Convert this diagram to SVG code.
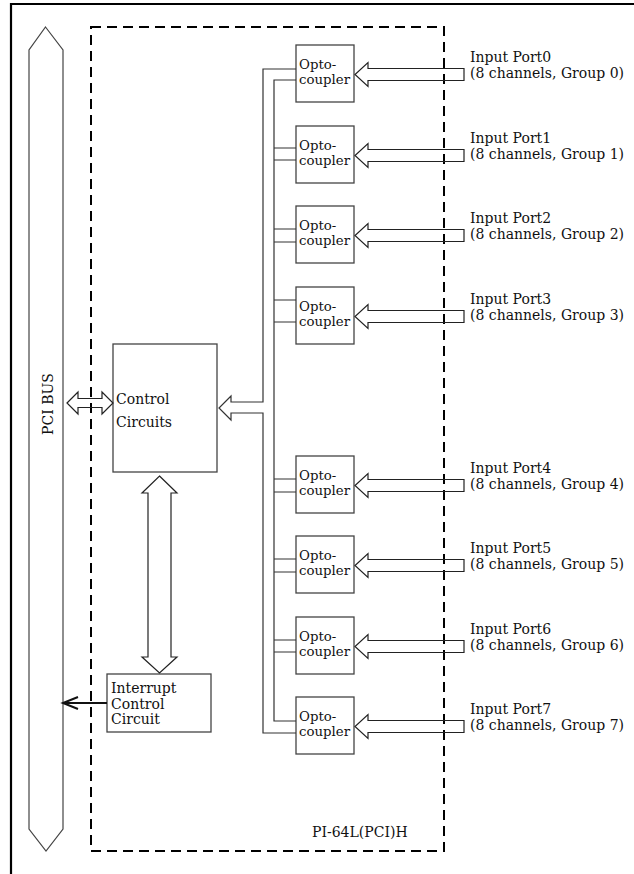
<svg xmlns="http://www.w3.org/2000/svg" width="634" height="874" viewBox="0 0 634 874">
<style>
.t{font-family:"DejaVu Serif","Liberation Serif",serif;font-size:14px;fill:#111}
.o{font-family:"DejaVu Serif","Liberation Serif",serif;font-size:13.3px;fill:#111}
.box{fill:#fff;stroke:#444;stroke-width:1.3}
.ln{fill:none;stroke:#333;stroke-width:1.2}
.ha{fill:none;stroke:#222;stroke-width:1.2;stroke-linejoin:miter}
</style>
<rect width="634" height="874" fill="#fff"/>
<g id="frame">
<path d="M11,874 V4 H634" fill="none" stroke="#000" stroke-width="2.2"/>
</g>
<g id="board">
<rect x="91" y="27" width="353" height="824" fill="none" stroke="#000" stroke-width="2" stroke-dasharray="10,6"/>
<text class="t" x="312" y="837">PI-64L(PCI)H</text>
</g>
<g id="pci-bus">
<polygon points="45.5,27 63,50 63,829 46,851 29,829 29,50" fill="none" stroke="#444" stroke-width="1.2"/>
<text class="t" font-size="14.5" transform="translate(53,404) rotate(-90)" text-anchor="middle">PCI BUS</text>
</g>
<g id="control">
<rect class="box" x="113" y="344" width="104" height="128"/>
<text class="t" x="116" y="404">Control</text>
<text class="t" x="116" y="427">Circuits</text>
</g>
<g id="interrupt">
<rect class="box" x="107" y="674" width="104" height="58"/>
<text class="t" x="111" y="693">Interrupt</text>
<text class="t" x="111" y="708.5">Control</text>
<text class="t" x="111" y="724">Circuit</text>
</g>
<g id="opto0"><rect class="box" x="296" y="45" width="58" height="57"/><text class="o" x="299" y="69">Opto-</text><text class="o" x="299" y="84">coupler</text></g>
<g id="opto1"><rect class="box" x="296" y="126" width="58" height="57"/><text class="o" x="299" y="150">Opto-</text><text class="o" x="299" y="165">coupler</text></g>
<g id="opto2"><rect class="box" x="296" y="206" width="58" height="57"/><text class="o" x="299" y="230">Opto-</text><text class="o" x="299" y="245">coupler</text></g>
<g id="opto3"><rect class="box" x="296" y="287" width="58" height="57"/><text class="o" x="299" y="311">Opto-</text><text class="o" x="299" y="326">coupler</text></g>
<g id="opto4"><rect class="box" x="296" y="456" width="58" height="57"/><text class="o" x="299" y="480">Opto-</text><text class="o" x="299" y="495">coupler</text></g>
<g id="opto5"><rect class="box" x="296" y="536" width="58" height="57"/><text class="o" x="299" y="560">Opto-</text><text class="o" x="299" y="575">coupler</text></g>
<g id="opto6"><rect class="box" x="296" y="617" width="58" height="57"/><text class="o" x="299" y="641">Opto-</text><text class="o" x="299" y="656">coupler</text></g>
<g id="opto7"><rect class="box" x="296" y="697" width="58" height="57"/><text class="o" x="299" y="721">Opto-</text><text class="o" x="299" y="736">coupler</text></g>
<g id="port-labels">
<text class="t" x="470" y="62">Input Port0</text><text class="t" x="470" y="78">(8 channels, Group 0)</text>
<text class="t" x="470" y="143">Input Port1</text><text class="t" x="470" y="159">(8 channels, Group 1)</text>
<text class="t" x="470" y="223">Input Port2</text><text class="t" x="470" y="239">(8 channels, Group 2)</text>
<text class="t" x="470" y="304">Input Port3</text><text class="t" x="470" y="320">(8 channels, Group 3)</text>
<text class="t" x="470" y="473">Input Port4</text><text class="t" x="470" y="489">(8 channels, Group 4)</text>
<text class="t" x="470" y="553">Input Port5</text><text class="t" x="470" y="569">(8 channels, Group 5)</text>
<text class="t" x="470" y="634">Input Port6</text><text class="t" x="470" y="650">(8 channels, Group 6)</text>
<text class="t" x="470" y="714">Input Port7</text><text class="t" x="470" y="730">(8 channels, Group 7)</text>
</g>
<g id="connectors">
<path class="ln" d="M296,80 H274 V721 H296 M274,148 H296 M274,160 H296 M274,229 H296 M274,242 H296 M274,300 H296 M274,322 H296 M274,479 H296 M274,492 H296 M274,559 H296 M274,572 H296 M274,640 H296 M274,652 H296"/>
<path class="ln" d="M296,69 H263 V402 H231 V396 L219,408 L231,420 V413 H263 V733 H296"/>
<path class="ha" d="M464,68.5 H368 V62.5 L355,74.5 L368,86.5 V80.5 H464 Z"/>
<path class="ha" d="M464,149.5 H368 V143.5 L355,155.5 L368,167.5 V161.5 H464 Z"/>
<path class="ha" d="M464,229.5 H368 V223.5 L355,235.5 L368,247.5 V241.5 H464 Z"/>
<path class="ha" d="M464,310.5 H368 V304.5 L355,316.5 L368,328.5 V322.5 H464 Z"/>
<path class="ha" d="M464,479.5 H368 V473.5 L355,485.5 L368,497.5 V491.5 H464 Z"/>
<path class="ha" d="M464,559.5 H368 V553.5 L355,565.5 L368,577.5 V571.5 H464 Z"/>
<path class="ha" d="M464,640.5 H368 V634.5 L355,646.5 L368,658.5 V652.5 H464 Z"/>
<path class="ha" d="M464,720.5 H368 V714.5 L355,726.5 L368,738.5 V732.5 H464 Z"/>
<path class="ha" d="M67,403 L78,392 V398.5 H102 V392 L113,403 L102,414 V407.5 H78 V414 Z"/>
<path class="ha" d="M159.5,476 L177,493 H171 V657 H177 L159.5,673 L142,657 H148 V493 H142 Z"/>
<path d="M107,703 H64 M78,697 L63,703 L78,709" fill="none" stroke="#111" stroke-width="2"/>
</g>
</svg>
